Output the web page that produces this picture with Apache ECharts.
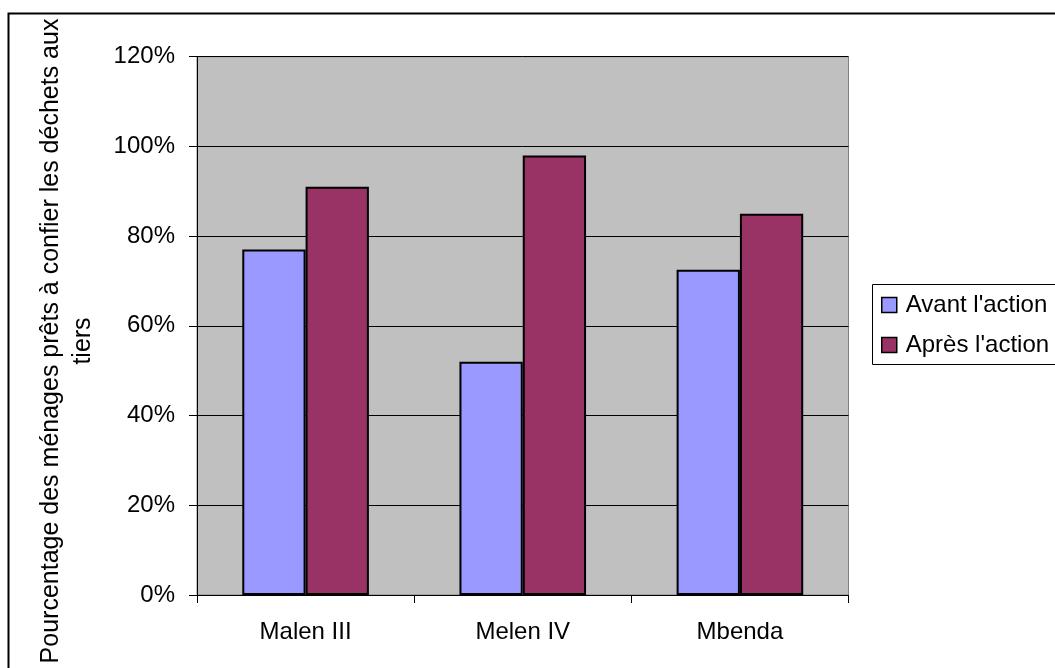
<!DOCTYPE html>
<html>
<head>
<meta charset="utf-8">
<script src="https://cdn.jsdelivr.net/npm/echarts@6/dist/echarts.min.js"></script>
<style>html,body{margin:0;padding:0;background:#fff}#c{width:1055px;height:668px}</style>
</head>
<body>
<div id="c"></div>
<script>
const categories = ['Malen III', 'Melen IV', 'Mbenda'];
const avant = [77, 52, 72.5];
const apres = [91, 98, 85];
const yTicks = [0, 20, 40, 60, 80, 100, 120];
const seriesNames = ["Avant l'action", "Après l'action"];
const yTitle = "Pourcentage des ménages prêts à confier les déchets aux\ntiers";

const FONT = "'Liberation Sans', Arial, sans-serif";
const chart = echarts.init(document.getElementById('c'), null, {renderer: 'canvas'});
chart.setOption({
  animation: false,
  backgroundColor: '#ffffff',
  textStyle: {fontFamily: FONT},
  grid: {left: 197, right: 206.5, top: 56.7, bottom: 73, show: true,
         backgroundColor: '#C0C0C0', borderColor: '#808080', borderWidth: 1},
  legend: {
    orient: 'vertical', left: 881, top: 293, padding: 0,
    itemWidth: 15, itemHeight: 15, itemGap: 16,
    icon: 'rect',
    textStyle: {fontSize: 24, color: '#000', fontFamily: FONT, padding: [0,0,0,4]},
    itemStyle: {borderColor: '#000', borderWidth: 1.5},
    data: seriesNames
  },
  xAxis: {
    type: 'category', data: categories,
    axisLine: {lineStyle: {color: '#000', width: 1}},
    axisTick: {show: true, length: 8, lineStyle: {color: '#000'}},
    axisLabel: {fontSize: 24, color: '#000', margin: 25, fontFamily: FONT}
  },
  yAxis: {
    type: 'value', min: 0, max: 120, interval: 20,
    axisLine: {show: true, lineStyle: {color: '#000', width: 1}},
    axisTick: {show: true, length: 8, lineStyle: {color: '#000'}},
    axisLabel: {fontSize: 24, color: '#000', margin: 22, fontFamily: FONT,
                formatter: v => (yTicks.indexOf(v) >= 0 ? v + '%' : '')},
    splitLine: {show: true, lineStyle: {color: '#000', width: 1}}
  },
  series: [
    {name: seriesNames[0], type: 'bar', data: avant, barGap: '0%', barCategoryGap: '41.7%',
     itemStyle: {color: '#9999FF', borderColor: '#000', borderWidth: 2}},
    {name: seriesNames[1], type: 'bar', data: apres, barGap: '0%', barCategoryGap: '41.7%',
     itemStyle: {color: '#993366', borderColor: '#000', borderWidth: 2}}
  ],
  graphic: [
    {type: 'rect', shape: {x: 8.5, y: 13.5, width: 1100, height: 700},
     style: {fill: 'none', stroke: '#000', lineWidth: 2}, z: 100, silent: true},
    {type: 'rect', shape: {x: 872.5, y: 284.5, width: 200, height: 80},
     style: {fill: '#fff', stroke: '#000', lineWidth: 1}, z: -1, silent: true},
    {type: 'text', x: 67, y: 341, rotation: Math.PI / 2, silent: true,
     style: {text: yTitle, fontSize: 25, fontFamily: FONT, fill: '#000',
             align: 'center', verticalAlign: 'middle', lineHeight: 32}}
  ]
});
</script>
</body>
</html>
